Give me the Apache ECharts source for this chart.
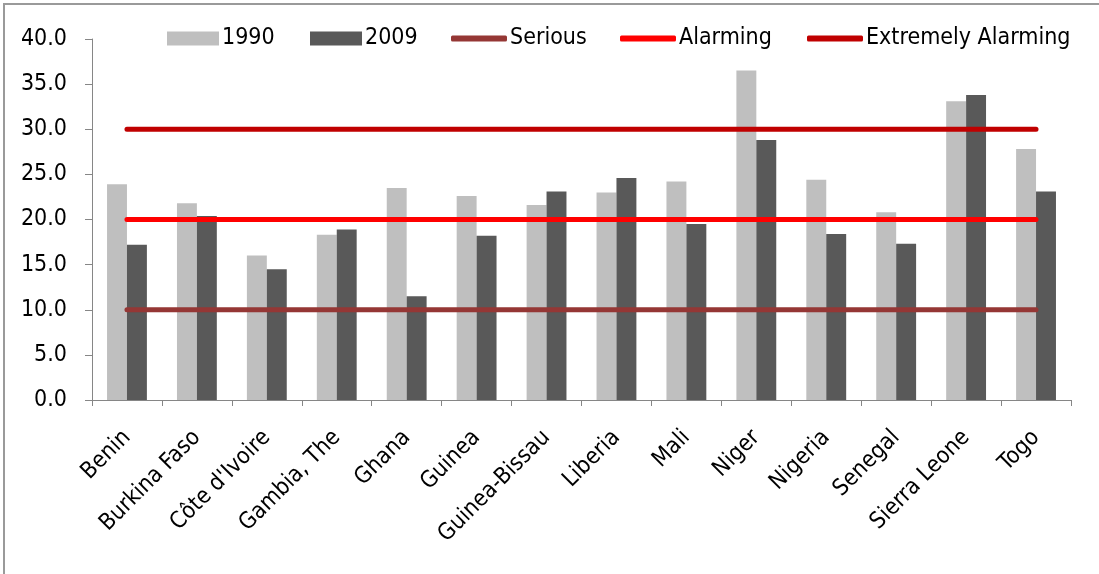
<!DOCTYPE html>
<html>
<head>
<meta charset="utf-8">
<script src="https://cdn.jsdelivr.net/npm/echarts@6/dist/echarts.min.js"></script>
<style>
  html, body { margin: 0; padding: 0; background: #fff; }
  #chart { width: 1099px; height: 574px; }
</style>
</head>
<body>
<div id="chart"></div>
<script>
// Countries on the category axis
const countries = ['Benin', 'Burkina Faso', "Côte d'Ivoire", 'Gambia, The', 'Ghana', 'Guinea',
  'Guinea-Bissau', 'Liberia', 'Mali', 'Niger', 'Nigeria', 'Senegal', 'Sierra Leone', 'Togo'];

// Index scores by year
const values1990 = [23.9, 21.8, 16.0, 18.3, 23.5, 22.6, 21.6, 23.0, 24.2, 36.5, 24.4, 20.8, 33.1, 27.8];
const values2009 = [17.2, 20.4, 14.5, 18.9, 11.5, 18.2, 23.1, 24.6, 19.5, 28.8, 18.4, 17.3, 33.8, 23.1];

// Severity thresholds
const seriousLevel = 10;
const alarmingLevel = 20;
const extremelyAlarmingLevel = 30;

// Value axis ticks
const yTicks = { min: 0, max: 40, interval: 5 };

const FONT = '"Liberation Sans Narrow", "DejaVu Sans Condensed", Lato';
const FONT_SIZE = 23;
const flat = v => countries.map(() => v);

const chart = echarts.init(document.getElementById('chart'), null, { renderer: 'canvas' });

// One legend block per entry so each key sits at its own spot in the top row
function legendItem(name, left, w, h, icon) {
  return {
    data: [{ name: name, icon: icon }], left: left, top: 27, padding: 0,
    itemWidth: w, itemHeight: h, itemGap: 0, selectedMode: false,
    textStyle: { fontFamily: FONT, fontSize: FONT_SIZE, color: '#000', padding: [0, 0, 0, -2] }
  };
}

const lineSeries = (name, value, color) => ({
  name: name, type: 'line', data: flat(value), symbol: 'none', z: 5,
  lineStyle: { color: color, width: 5, cap: 'round' }, itemStyle: { color: color },
  emphasis: { disabled: true }, silent: true
});

chart.setOption({
  animation: false,
  backgroundColor: '#fff',
  graphic: [{
    type: 'rect', shape: { x: 4, y: 4, width: 1200, height: 700 },
    style: { fill: 'none', stroke: '#9a9a9a', lineWidth: 2 }, silent: true
  }],
  legend: [
    legendItem('1990', 167, 52, 14, 'rect'),
    legendItem('2009', 310, 52, 14, 'rect'),
    legendItem('Serious', 451, 56, 6, 'roundRect'),
    legendItem('Alarming', 620, 56, 6, 'roundRect'),
    legendItem('Extremely Alarming', 807, 56, 6, 'roundRect')
  ],
  grid: { left: 92, right: 28, top: 39, bottom: 174 },
  xAxis: {
    type: 'category', data: countries,
    axisLine: { lineStyle: { color: '#868686', width: 1 } },
    axisTick: { show: true, length: 6, lineStyle: { color: '#868686' } },
    axisLabel: { rotate: 45, margin: 34, fontFamily: FONT, fontSize: FONT_SIZE, color: '#000', interval: 0 }
  },
  yAxis: {
    type: 'value', min: yTicks.min, max: yTicks.max, interval: yTicks.interval,
    axisLine: { show: true, lineStyle: { color: '#868686', width: 1 } },
    axisTick: { show: true, length: 7, lineStyle: { color: '#868686' } },
    splitLine: { show: false },
    axisLabel: { margin: 25, fontFamily: FONT, fontSize: FONT_SIZE, color: '#000',
      formatter: v => v.toFixed(1) }
  },
  series: [
    { name: '1990', type: 'bar', data: values1990, barGap: '0%', barCategoryGap: '43%',
      itemStyle: { color: '#bfbfbf' }, silent: true },
    { name: '2009', type: 'bar', data: values2009,
      itemStyle: { color: '#595959' }, silent: true },
    lineSeries('Serious', seriousLevel, '#953735'),
    lineSeries('Alarming', alarmingLevel, '#ff0000'),
    lineSeries('Extremely Alarming', extremelyAlarmingLevel, '#c00000')
  ]
});
</script>
</body>
</html>
